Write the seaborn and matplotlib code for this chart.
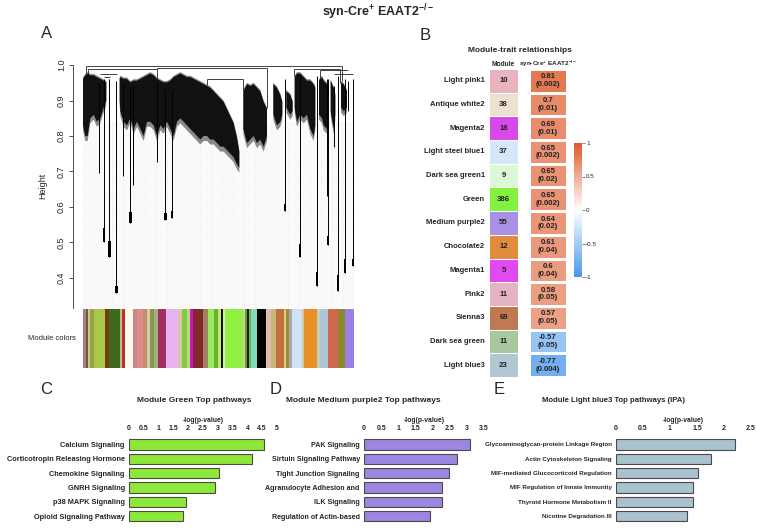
import numpy as np
import pandas as pd
import matplotlib
matplotlib.use('Agg')
import matplotlib.pyplot as plt
import seaborn as sns
from matplotlib.colors import ListedColormap, LinearSegmentedColormap

# ---------------- data ----------------
# Panel A: dendrogram outline (x in leaf-position units)
mass_x = [248, 255, 262, 270, 280, 290, 300, 310, 318, 338, 358, 360, 370, 380, 390, 400, 410, 420,
          430, 440, 450, 460, 470, 480, 490, 500, 510, 520, 530, 540, 550, 560, 570, 580, 590, 600,
          610, 620, 630, 640, 650, 660, 670, 680, 690, 700, 710, 717, 723, 729, 740, 750, 760, 770,
          780, 790, 800, 810, 819, 830, 840, 846, 852, 858, 870, 877, 880, 883, 890, 900, 910, 920,
          930, 940, 945, 950, 956, 965, 970, 980, 984, 988, 991, 1000, 1005, 1014, 1022, 1030, 1040]
mass_top = [0.965, 0.975, 0.98, 0.975, 0.975, 0.97, 0.965, 0.96, 0.955, None, 0.965, 0.97, 0.965,
            0.965, 0.955, 0.96, 0.96, 0.965, 0.97, 0.975, 0.98, 0.975, 0.965, 0.96, 0.955, 0.955,
            0.96, 0.97, 0.975, 0.98, 0.975, 0.97, 0.97, 0.965, 0.96, 0.955, 0.95, 0.945, 0.94,
            0.93, 0.92, 0.91, 0.90, 0.88, 0.86, 0.84, 0.80, 0.76, None, 0.93, 0.95, 0.945, 0.95,
            0.94, 0.93, 0.90, 0.88, None, 0.95, 0.94, 0.92, 0.90, None, 0.93, 0.92, 0.90, None,
            0.97, 0.98, 0.98, 0.97, 0.96, 0.96, 0.95, 0.94, None, 0.96, 0.97, 0.96, 0.95, 0.94,
            None, 0.96, 0.94, 0.92, None, 0.955, 0.95, 0.93]
mass_bot = [0.83, 0.80, 0.80, 0.85, 0.86, 0.84, 0.85, 0.88, 0.90, None, 0.90, 0.87, 0.84, 0.83,
            0.85, 0.82, 0.84, 0.82, 0.80, 0.84, 0.84, 0.83, 0.80, 0.83, 0.82, 0.84, 0.82, 0.80,
            0.84, 0.85, 0.84, 0.83, 0.82, 0.81, 0.80, 0.79, 0.80, 0.80, 0.79, 0.79, 0.78, 0.77,
            0.77, 0.76, 0.75, 0.74, 0.72, 0.71, None, 0.82, 0.78, 0.79, 0.80, 0.78, 0.79, 0.77,
            0.80, None, 0.86, 0.83, 0.84, 0.86, None, 0.88, 0.86, 0.87, None, 0.88, 0.84, 0.86,
            0.85, 0.86, 0.82, 0.80, 0.83, None, 0.86, 0.85, 0.83, 0.82, 0.85, None, 0.87, 0.82,
            0.86, None, 0.88, 0.87, 0.88]
branch_x = [295, 310, 327, 348, 368, 390, 398, 470, 495, 515, 853, 898, 950, 980, 982, 1012, 1035, 1058, 1000, 1042]
branch_top = [0.95, 0.96, 0.96, 0.955, 0.95, 0.94, 0.94, 0.95, 0.93, 0.93, 0.96, 0.97, 0.97, 0.96, 0.96, 0.97, 0.96, 0.96, 0.94, 0.955]
branch_bot = [0.695, 0.50, 0.46, 0.358, 0.686, 0.555, 0.662, 0.728, 0.564, 0.569, 0.588, 0.46, 0.376, 0.63, 0.494, 0.362, 0.414, 0.433, 0.77, 0.87]
branch_block = [0, 0.04, 0.045, 0.02, 0, 0.03, 0, 0, 0.02, 0.02, 0.02, 0.035, 0.04, 0, 0.025, 0.045, 0.04, 0.02, 0, 0]
hline_y = [0.997, 0.99, 0.993, 0.99, 0.985, 0.975, 0.965, 0.96, 0.975]
hline_x0 = [258, 262, 470, 880, 960, 300, 310, 620, 1000]
hline_x1 = [1025, 470, 800, 1020, 1042, 350, 330, 728, 1058]
vconn_x = [258, 1025, 470, 800, 880, 1020, 728, 620, 262, 960]
vconn_top = [0.997, 0.997, 0.993, 0.993, 0.99, 0.99, 0.96, 0.96, 0.99, 0.985]
vconn_bot = [0.97, 0.955, 0.96, 0.88, 0.97, 0.95, 0.93, 0.945, 0.975, 0.96]

strip_bounds = [248, 258, 262, 268, 282, 314, 327, 358, 364, 370, 375, 398, 410, 428, 440, 448, 460,
                474, 498, 534, 545, 560, 568, 578, 608, 622, 640, 652, 662, 670, 674, 728, 735, 742,
                748, 752, 770, 798, 805, 812, 828, 852, 858, 866, 875, 905, 912, 952, 960, 985, 1015,
                1036, 1062]
strip_colors = ['#b07890', '#706030', '#c8c890', '#98a048', '#a8c848', '#7a3a10', '#3a6a1a', '#c8b890',
                '#c83030', '#904020', '#fff6ee', '#c88888', '#e08a8a', '#c09070', '#d8c8a0', '#889850',
                '#a0b080', '#a03060', '#e8b4f4', '#d8c8a0', '#88c848', '#b0e070', '#d010d0', '#802828',
                '#a08060', '#98e860', '#70b030', '#b0f070', '#101010', '#e8e0c8', '#90f040', '#d8c8a0',
                '#60a030', '#202020', '#70b040', '#80d8c0', '#000000', '#d8c8a0', '#e0b8b0', '#c8b878',
                '#c07040', '#e0d070', '#909040', '#b0a8a0', '#d0e0f8', '#d8c8a0', '#e89028', '#c0d0c0',
                '#b0c4d8', '#d06850', '#8a8a28', '#9a80e8']
height_ticks = [0.4, 0.5, 0.6, 0.7, 0.8, 0.9, 1.0]

# Panel B
module_names = ['Light pink1', 'Antique white2', 'Magenta2', 'Light steel blue1', 'Dark sea green1',
                'Green', 'Medium purple2', 'Chocolate2', 'Magenta1', 'Pink2', 'Sienna3',
                'Dark sea green', 'Light blue3']
module_sizes = [10, 38, 18, 37, 9, 386, 55, 12, 5, 11, 69, 11, 23]
module_colors = ['#e8b4c0', '#eee0d0', '#d84ae8', '#d8e6fa', '#dcf8d4', '#84f040', '#a892e6',
                 '#e08c3c', '#e04af0', '#e4b4c4', '#c07a50', '#a8c8a0', '#b0c8d4']
trait_corr = [0.81, 0.7, 0.69, 0.65, 0.65, 0.65, 0.64, 0.61, 0.6, 0.58, 0.57, -0.57, -0.77]
trait_p = ['0.002', '0.01', '0.01', '0.002', '0.02', '0.002', '0.02', '0.04', '0.04', '0.05', '0.05',
           '0.05', '0.004']
cbar_ticks = [-1, -0.5, 0, 0.5, 1]

# Panels C-E
green_paths = ['Calcium Signaling', 'Corticotropin Releasing Hormone', 'Chemokine Signaling',
               'GNRH Signaling', 'p38 MAPK Signaling', 'Opioid Signaling Pathway']
green_vals = [4.55, 4.14, 3.05, 2.92, 1.92, 1.83]
green_ticks = [0, 0.5, 1, 1.5, 2, 2.5, 3, 3.5, 4, 4.5, 5]
purple_paths = ['PAK Signaling', 'Sirtuin Signaling Pathway', 'Tight Junction Signaling',
                'Agranulocyte Adhesion and', 'ILK Signaling', 'Regulation of Actin-based']
purple_vals = [3.08, 2.71, 2.47, 2.27, 2.27, 1.93]
purple_ticks = [0, 0.5, 1, 1.5, 2, 2.5, 3, 3.5]
blue_paths = ['Glycoaminoglycan-protein Linkage Region', 'Actin Cytoskeleton Signaling',
              'MIF-mediated Glucocorticoid Regulation', 'MIF Regulation of Innate Immunity',
              'Thyroid Hormone Metabolism II', 'Nicotine Degradation III']
blue_vals = [2.21, 1.76, 1.51, 1.42, 1.42, 1.31]
blue_ticks = [0, 0.5, 1, 1.5, 2, 2.5]

# ---------------- style ----------------
sns.set_theme(style='white')
plt.rcParams['font.family'] = ['Liberation Sans', 'DejaVu Sans']
plt.rcParams['mathtext.fontset'] = 'custom'
plt.rcParams['mathtext.rm'] = 'Liberation Sans:bold'
plt.rcParams['mathtext.bf'] = 'Liberation Sans:bold'
plt.rcParams['axes.unicode_minus'] = False

W, H = 757, 530
fig = plt.figure(figsize=(W / 100, H / 100), dpi=100)


def box(l, t, r, b):
    return [l / W, 1 - b / H, (r - l) / W, (b - t) / H]


fig.text(378 / W, 1 - 12 / H, r'syn-Cre$^{+}$ EAAT2$^{-/-}$', ha='center', va='center',
         fontsize=9, fontweight='bold')

# ---------------- Panel A ----------------
axA = fig.add_axes(box(73, 64, 355, 308))
axA.vlines(np.arange(251, 1062, 5.5), 0.315, 0.84, colors='#d4d4d4', linewidth=0.35,
           linestyles=(0, (1, 1.2)), zorder=0)
mx = np.array(mass_x, dtype=float)
mt = np.array(mass_top, dtype=float)
mb = np.array(mass_bot, dtype=float)
axA.fill_between(mx, mb - 0.014, mt, color='#8a8a8a', linewidth=0, zorder=1)
axA.fill_between(mx, mb, mt - 0.004, color='#111111', linewidth=0, zorder=2)
axA.vlines(branch_x, branch_bot, branch_top, colors='black', linewidth=0.7, zorder=3)
bb = np.array(branch_bot)
blk = np.array(branch_block)
sel = blk > 0
axA.bar(np.array(branch_x)[sel], blk[sel], bottom=bb[sel], width=7, color='black', linewidth=0, zorder=3)
axA.hlines(hline_y, hline_x0, hline_x1, colors='#222222', linewidth=0.6, zorder=3)
axA.vlines(vconn_x, vconn_bot, vconn_top, colors='#222222', linewidth=0.6, zorder=3)
axA.set_xlim(218, 1064)
axA.set_ylim(0.315, 1.003)
axA.set_yticks(height_ticks)
axA.set_yticklabels([f'{v:.1f}' for v in height_ticks], rotation=90, va='center', fontsize=6.5)
axA.set_xticks([])
for s in ['top', 'right', 'bottom']:
    axA.spines[s].set_visible(False)
axA.spines['left'].set_bounds(0.315, 1.0)
axA.spines['left'].set_color('#333333')
axA.spines['left'].set_linewidth(0.6)
axA.tick_params(axis='y', length=3, width=0.6, color='#333333', pad=2, left=True)
axA.set_ylabel('Height', fontsize=6.5, labelpad=7)
axA.patch.set_alpha(0)

axS = fig.add_axes(box(83, 309, 354, 368))
sb = np.array(strip_bounds, dtype=float)
axS.bar(sb[:-1], 1, width=np.diff(sb), align='edge', color=strip_colors, linewidth=0)
axS.set_xlim(248, 1062)
axS.set_ylim(0, 1)
axS.axis('off')
fig.text(76 / W, 1 - 338 / H, 'Module colors', ha='right', va='center', fontsize=5.5)

# ---------------- Panel B ----------------
axM = fig.add_axes(box(489, 69, 518, 377))
mdf = pd.DataFrame({'Module': np.arange(len(module_names))}, index=module_names)
sns.heatmap(mdf, ax=axM, cmap=ListedColormap(module_colors), vmin=-0.5, vmax=len(module_names) - 0.5,
            cbar=False, annot=np.array(module_sizes).reshape(-1, 1), fmt='d',
            annot_kws={'fontsize': 5.6, 'fontweight': 'bold', 'color': '#222222'},
            linewidths=0.6, linecolor='white', xticklabels=False, yticklabels=True)
axM.set_ylabel('')
axM.tick_params(axis='y', length=0, pad=3)
for t in axM.get_yticklabels():
    t.set_fontsize(5.5)
    t.set_fontweight('bold')
    t.set_rotation(0)

axT = fig.add_axes(box(529, 69, 567, 377))
axC = fig.add_axes(box(574, 143, 582, 277))
cmap_rb = LinearSegmentedColormap.from_list('rb', ['#4a98ea', '#ffffff', '#de5a2a'])
tdf = pd.DataFrame({'trait': trait_corr}, index=module_names)
labels = np.array([f'{c}\n({p})' for c, p in zip(trait_corr, trait_p)]).reshape(-1, 1)
sns.heatmap(tdf, ax=axT, cmap=cmap_rb, vmin=-1, vmax=1, cbar_ax=axC, annot=labels, fmt='',
            annot_kws={'fontsize': 5.6, 'fontweight': 'bold', 'color': '#222222', 'linespacing': 1.15},
            linewidths=0.8, linecolor='white', xticklabels=False, yticklabels=False)
axT.set_ylabel('')
axC.set_yticks(cbar_ticks)
axC.set_yticklabels([f'{v:g}' for v in cbar_ticks], fontsize=4.5)
axC.tick_params(axis='y', length=2, width=0.5, pad=1, color='#555555')
cb = axT.collections[0].colorbar
if cb is not None:
    cb.outline.set_visible(False)
for s in axC.spines.values():
    s.set_visible(False)

fig.text(520 / W, 1 - 51 / H, 'Module-trait relationships', ha='center', va='center',
         fontsize=6, fontweight='bold')
fig.text(503 / W, 1 - 64 / H, 'Module', ha='center', va='center', fontsize=4.8, fontweight='bold')
fig.text(548 / W, 1 - 64 / H, r'syn-Cre$^{+}$ EAAT2$^{-/-}$', ha='center', va='center',
         fontsize=4.6, fontweight='bold')


# ---------------- Panels C-E ----------------
def pathway_panel(rect, paths, vals, ticks, color, xmax, title, title_x, label_fs, title_fs):
    ax = fig.add_axes(rect)
    sns.barplot(x=vals, y=paths, ax=ax, color=color, edgecolor='#4a4a4a', linewidth=0.8,
                width=0.72, orient='h', saturation=1)
    ax.set_xlim(0, xmax)
    ax.set_ylim(5.55, -0.72)
    ax.xaxis.tick_top()
    ax.xaxis.set_label_position('top')
    ax.set_xticks(ticks)
    ax.set_xticklabels([f'{v:g}' for v in ticks], fontsize=5.0, fontweight='bold')
    ax.tick_params(axis='x', length=0, pad=1.2, top=True, bottom=False)
    ax.tick_params(axis='y', length=0, pad=3)
    for t in ax.get_yticklabels():
        t.set_fontsize(label_fs)
        t.set_fontweight('bold')
    ax.set_xlabel('-log(p-value)', fontsize=4.9, fontweight='bold', labelpad=2.5)
    ax.set_ylabel('')
    for s in ax.spines.values():
        s.set_visible(False)
    fig.text(title_x / W, 1 - 401 / H, title, ha='center', va='center', fontsize=title_fs,
             fontweight='bold')
    return ax


pathway_panel(box(129, 434, 277, 524), green_paths, green_vals, green_ticks, '#8ee83a', 5,
              'Module Green Top pathways', 194, 5.3, 6.0)
pathway_panel(box(364, 434, 484, 524), purple_paths, purple_vals, purple_ticks, '#9d86e2', 3.5,
              'Module Medium purple2 Top pathways', 363, 5.1, 6.0)
pathway_panel(box(616, 434, 751, 524), blue_paths, blue_vals, blue_ticks, '#a8c2ce', 2.5,
              'Module Light blue3 Top pathways (IPA)', 613, 4.5, 5.6)

# panel letters
for letter, x, y in [('A', 47, 34), ('B', 425, 35), ('C', 46, 390), ('D', 276, 390), ('E', 499, 390)]:
    fig.text(x / W, 1 - y / H, letter, ha='center', va='center', fontsize=12)

fig.savefig('out.png', dpi=100)
